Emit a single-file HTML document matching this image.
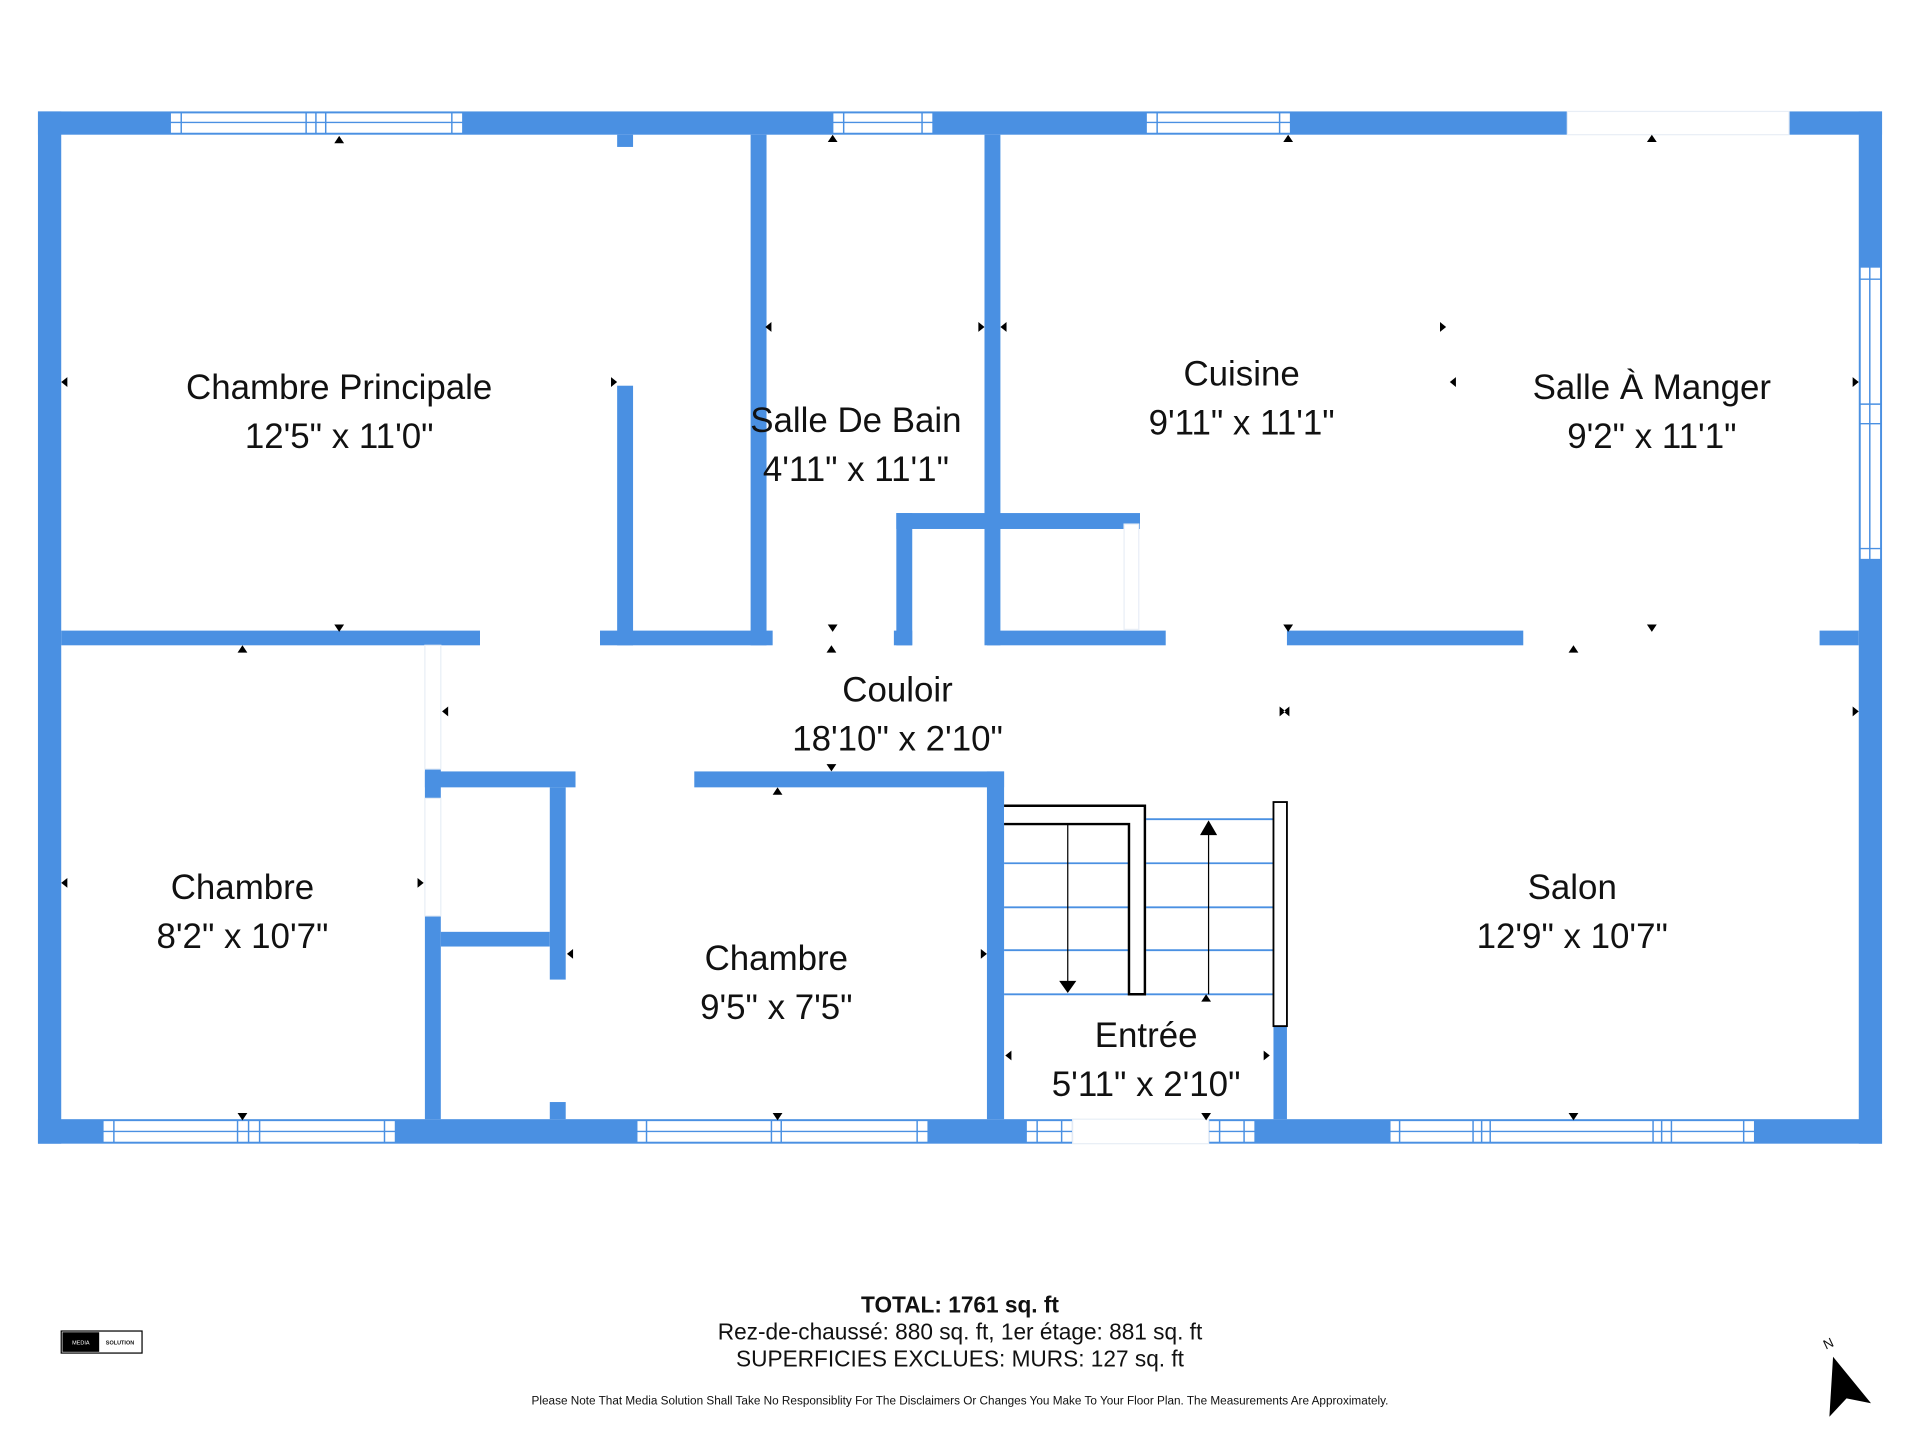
<!DOCTYPE html>
<html><head><meta charset="utf-8"><style>
html,body{margin:0;padding:0;background:#fff;}
svg{display:block;}
text{font-family:"Liberation Sans",sans-serif;fill:#111;}
</style></head><body>
<svg width="1920" height="1440" viewBox="0 0 1568 1176" xmlns="http://www.w3.org/2000/svg">
<g fill="#4a90e2">
<rect x="31" y="91" width="1506" height="19"/>
<rect x="31" y="91" width="19" height="843"/>
<rect x="1518" y="91" width="19" height="843"/>
<rect x="31" y="914" width="1506" height="20"/>
<rect x="50" y="515" width="342" height="12"/>
<rect x="490" y="515" width="141" height="12"/>
<rect x="730" y="515" width="15" height="12"/>
<rect x="806" y="515" width="146" height="12"/>
<rect x="1051" y="515" width="193" height="12"/>
<rect x="1486" y="515" width="32" height="12"/>
<rect x="504" y="110" width="13" height="10"/>
<rect x="504" y="315" width="13" height="212"/>
<rect x="613" y="110" width="13" height="417"/>
<rect x="804" y="110" width="13" height="417"/>
<rect x="732" y="419" width="199" height="13"/>
<rect x="732" y="419" width="13" height="108"/>
<rect x="347" y="628" width="13" height="24"/>
<rect x="347" y="748" width="13" height="166"/>
<rect x="347" y="630" width="123" height="13"/>
<rect x="567" y="630" width="253" height="13"/>
<rect x="449" y="643" width="13" height="157"/>
<rect x="449" y="900" width="13" height="14"/>
<rect x="360" y="761" width="89" height="12"/>
<rect x="806" y="630" width="14" height="284"/>
<rect x="1040" y="838" width="11" height="76"/>
</g>
<g fill="#fff" stroke="#4a90e2" stroke-width="1.2">
<rect x="139" y="92" width="239" height="17"/><line x1="139" y1="100" x2="378" y2="100"/><line x1="148" y1="92" x2="148" y2="109"/><line x1="250" y1="92" x2="250" y2="109"/><line x1="258" y1="92" x2="258" y2="109"/><line x1="266" y1="92" x2="266" y2="109"/><line x1="369" y1="92" x2="369" y2="109"/>
<rect x="680" y="92" width="82" height="17"/><line x1="680" y1="100" x2="762" y2="100"/><line x1="689" y1="92" x2="689" y2="109"/><line x1="753" y1="92" x2="753" y2="109"/>
<rect x="936" y="92" width="118" height="17"/><line x1="936" y1="100" x2="1054" y2="100"/><line x1="945" y1="92" x2="945" y2="109"/><line x1="1045" y1="92" x2="1045" y2="109"/>
<rect x="1519" y="218" width="17" height="239"/><line x1="1527" y1="218" x2="1527" y2="457"/><line x1="1519" y1="228" x2="1536" y2="228"/><line x1="1519" y1="330" x2="1536" y2="330"/><line x1="1519" y1="346" x2="1536" y2="346"/><line x1="1519" y1="448" x2="1536" y2="448"/>
<rect x="84" y="915" width="239" height="18"/><line x1="84" y1="924" x2="323" y2="924"/><line x1="93" y1="915" x2="93" y2="933"/><line x1="194" y1="915" x2="194" y2="933"/><line x1="203" y1="915" x2="203" y2="933"/><line x1="212" y1="915" x2="212" y2="933"/><line x1="314" y1="915" x2="314" y2="933"/>
<rect x="520" y="915" width="238" height="18"/><line x1="520" y1="924" x2="758" y2="924"/><line x1="528" y1="915" x2="528" y2="933"/><line x1="630" y1="915" x2="630" y2="933"/><line x1="638" y1="915" x2="638" y2="933"/><line x1="749" y1="915" x2="749" y2="933"/>
<rect x="838" y="915" width="38" height="18"/><line x1="838" y1="924" x2="876" y2="924"/><line x1="847" y1="915" x2="847" y2="933"/><line x1="867" y1="915" x2="867" y2="933"/>
<rect x="987" y="915" width="38" height="18"/><line x1="987" y1="924" x2="1025" y2="924"/><line x1="996" y1="915" x2="996" y2="933"/><line x1="1016" y1="915" x2="1016" y2="933"/>
<rect x="1135" y="915" width="298" height="18"/><line x1="1135" y1="924" x2="1433" y2="924"/><line x1="1143" y1="915" x2="1143" y2="933"/><line x1="1203" y1="915" x2="1203" y2="933"/><line x1="1210" y1="915" x2="1210" y2="933"/><line x1="1217" y1="915" x2="1217" y2="933"/><line x1="1350" y1="915" x2="1350" y2="933"/><line x1="1357" y1="915" x2="1357" y2="933"/><line x1="1365" y1="915" x2="1365" y2="933"/><line x1="1424" y1="915" x2="1424" y2="933"/>
</g>
<g fill="#fff" stroke="#e8eef6" stroke-width="1">
<rect x="1280" y="91" width="181" height="19"/>
<rect x="876" y="914" width="111" height="20"/>
<rect x="347" y="527" width="13" height="101"/>
<rect x="347" y="652" width="13" height="96"/>
<rect x="918" y="428" width="12" height="86"/>
</g>
<g stroke="#4a90e2" stroke-width="1.5">
<line x1="820" y1="705" x2="922" y2="705"/><line x1="820" y1="741" x2="922" y2="741"/><line x1="820" y1="776" x2="922" y2="776"/><line x1="820" y1="812" x2="922" y2="812"/>
<line x1="936" y1="669" x2="1040" y2="669"/><line x1="936" y1="705" x2="1040" y2="705"/><line x1="936" y1="741" x2="1040" y2="741"/><line x1="936" y1="776" x2="1040" y2="776"/><line x1="936" y1="812" x2="1040" y2="812"/>
</g>
<path d="M820 658 H935 V812 H922 V673 H820" fill="#fff" stroke="#000" stroke-width="2"/>
<rect x="1040" y="655" width="11" height="183" fill="#fff" stroke="#000" stroke-width="1.5"/>
<g stroke="#000" stroke-width="1">
<line x1="872" y1="673" x2="872" y2="802"/><line x1="987" y1="680" x2="987" y2="812"/>
</g>
<path d="M865 801 H879 L872 811Z M980 682 H994 L987 670Z" fill="#000"/>
<g fill="#000">
<path d="M273 117h8l-4-6z M273 510h8l-4 6z M676 116h8l-4-6z M676 510h8l-4 6z M1048 116h8l-4-6z M1048 510h8l-4 6z M1345 116h8l-4-6z M1345 510h8l-4 6z M194 533h8l-4-6z M675 533h8l-4-6z M1281 533h8l-4-6z M675 624h8l-4 6z M631 649h8l-4-6z M194 909h8l-4 6z M631 909h8l-4 6z M1281 909h8l-4 6z M981 909h8l-4 6z M981 818h8l-4-6z"/>
<path d="M55 308v8l-5-4z M499 308v8l5-4z M630 263v8l-5-4z M799 263v8l5-4z M822 263v8l-5-4z M1176 263v8l5-4z M1189 308v8l-5-4z M1513 308v8l5-4z M366 577v8l-5-4z M1045 577v8l5-4z M1053 577v8l-5-4z M1513 577v8l5-4z M55 717v8l-5-4z M341 717v8l5-4z M468 775v8l-5-4z M801 775v8l5-4z M826 858v8l-5-4z M1032 858v8l5-4z"/>
</g>
<g font-size="28.5" text-anchor="middle">
<text x="277" y="326">Chambre Principale</text><text x="277" y="366">12'5" x 11'0"</text>
<text x="699" y="353">Salle De Bain</text><text x="699" y="393">4'11" x 11'1"</text>
<text x="1014" y="315">Cuisine</text><text x="1014" y="355">9'11" x 11'1"</text>
<text x="1349" y="326">Salle À Manger</text><text x="1349" y="366">9'2" x 11'1"</text>
<text x="733" y="573">Couloir</text><text x="733" y="613">18'10" x 2'10"</text>
<text x="198" y="734">Chambre</text><text x="198" y="774">8'2" x 10'7"</text>
<text x="634" y="792">Chambre</text><text x="634" y="832">9'5" x 7'5"</text>
<text x="1284" y="734">Salon</text><text x="1284" y="774">12'9" x 10'7"</text>
<text x="936" y="855">Entrée</text><text x="936" y="895">5'11" x 2'10"</text>
</g>
<g text-anchor="middle" font-size="18.5">
<text x="784" y="1072" font-weight="bold">TOTAL: 1761 sq. ft</text>
<text x="784" y="1094">Rez-de-chaussé: 880 sq. ft, 1er étage: 881 sq. ft</text>
<text x="784" y="1116">SUPERFICIES EXCLUES: MURS: 127 sq. ft</text>
<text x="784" y="1147" font-size="9.6">Please Note That Media Solution Shall Take No Responsiblity For The Disclaimers Or Changes You Make To Your Floor Plan. The Measurements Are Approximately.</text>
</g>
<rect x="50" y="1087" width="66" height="18" fill="#fff" stroke="#000" stroke-width="1"/>
<rect x="51" y="1088" width="30" height="16" fill="#000"/>
<text x="66" y="1098" font-size="4.5" text-anchor="middle" style="fill:#fff">MEDIA</text>
<text x="98" y="1098" font-size="4.5" text-anchor="middle" font-weight="bold">SOLUTION</text>
<path d="M1497 1108 L1528 1146 L1508 1142 L1494 1157 Z" fill="#000"/>
<text x="1493" y="1101" font-size="11" text-anchor="middle" transform="rotate(-25 1493 1097)">N</text>
</svg>
</body></html>
